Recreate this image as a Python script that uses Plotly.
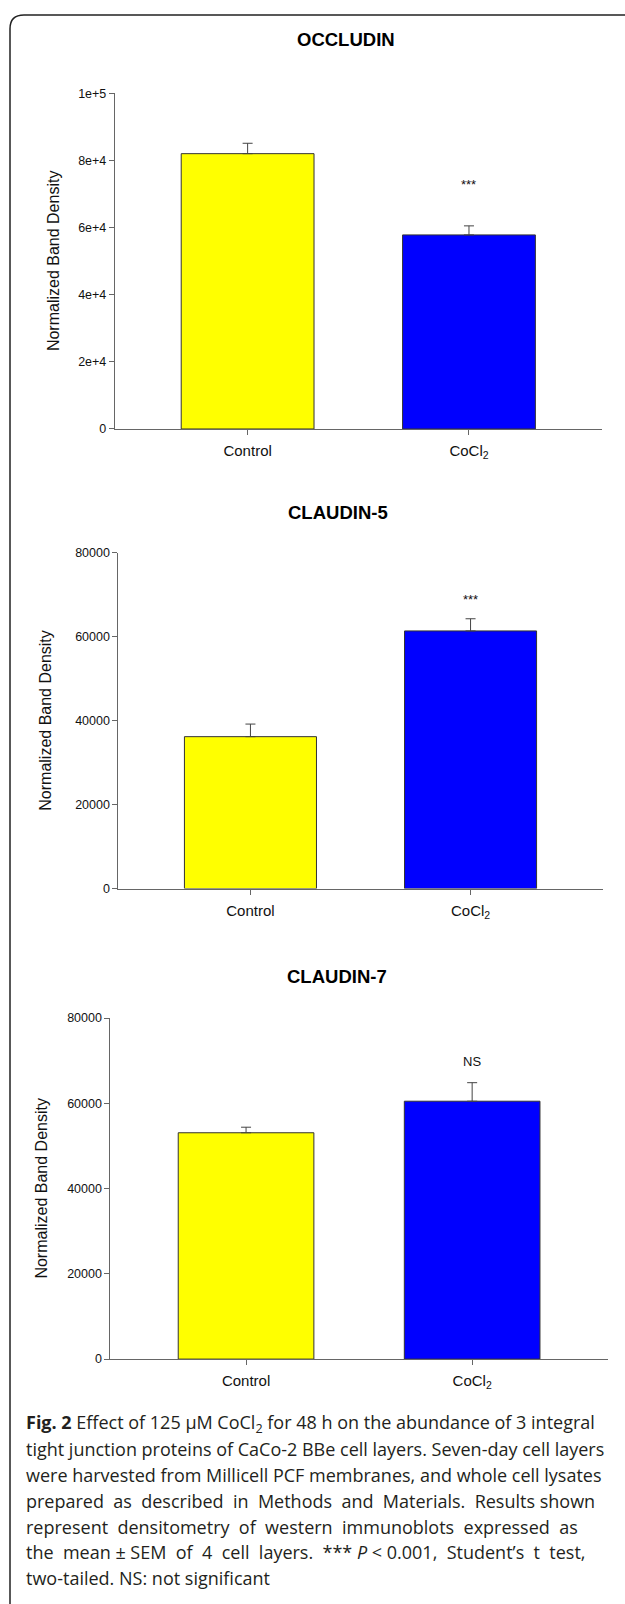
import plotly.graph_objects as go

W, H = 625, 1604

# ---------------- data ----------------
categories = ["Control", "CoCl<sub>2</sub>"]
panel_titles = ["OCCLUDIN", "CLAUDIN-5", "CLAUDIN-7"]
occludin_mean = [82000, 57800]
occludin_sem = [3100, 2700]
claudin5_mean = [36200, 61400]
claudin5_sem = [3000, 2900]
claudin7_mean = [53100, 60500]
claudin7_sem = [1300, 4350]
sig_labels = ["***", "***", "NS"]
occludin_tickvals = [0, 20000, 40000, 60000, 80000, 100000]
occludin_ticktext = ["0", "2e+4", "4e+4", "6e+4", "8e+4", "1e+5"]
claudin_tickvals = [0, 20000, 40000, 60000, 80000]
claudin_ticktext = ["0", "20000", "40000", "60000", "80000"]
y_title = "Normalized Band Density"
NB = "\u00a0"  # extra non-breaking space to mimic the justified caption lines
caption_lines = [
    "<b>Fig. 2</b> Effect of 125 µM CoCl<sub>2</sub> for 48 h on the abundance of 3 integral",
    "tight junction proteins of CaCo-2 BBe cell layers. Seven-day cell layers",
    "were harvested from Millicell PCF membranes, and whole cell lysates",
    ("prepared " + NB + "as " + NB + "described " + NB + "in " + NB + "Methods " + NB
     + "and " + NB + "Materials. " + NB + "Results shown"),
    ("represent " + NB + "densitometry " + NB + "of " + NB + "western " + NB
     + "immunoblots " + NB + "expressed " + NB + "as"),
    ("the " + NB + "mean ± SEM " + NB + "of " + NB + "4 " + NB + "cell " + NB + "layers. " + NB
     + "*** <i>P</i> &lt; 0.001, " + NB + "Student’s " + NB + "t " + NB + "test,"),
    "two-tailed. NS: not significant",
]

# ---------------- style / layout ----------------
bar_colors = ["#FFFF00", "#0000FF"]
FONT = "Arial, Liberation Sans, Helvetica, sans-serif"
CAP_FONT = "Open Sans, Noto Sans, sans-serif"
AXIS_COL = "#666666"


def px(x):
    return x / W


def py(y):
    return 1 - y / H


panels = [
    dict(mean=occludin_mean, sem=occludin_sem, tv=occludin_tickvals, tt=occludin_ticktext,
         ymax=100000, x0=114.8, x1=601.8, top=87.0, bot=425.7,
         tx=346, ty=33, ytx=53, sig_y=72900),
    dict(mean=claudin5_mean, sem=claudin5_sem, tv=claudin_tickvals, tt=claudin_ticktext,
         ymax=80000, x0=118.4, x1=602.6, top=550.7, bot=889.3,
         tx=338, ty=510, ytx=46, sig_y=69000),
    dict(mean=claudin7_mean, sem=claudin7_sem, tv=claudin_tickvals, tt=claudin_ticktext,
         ymax=80000, x0=110.4, x1=607.8, top=1020.0, bot=1364.0,
         tx=337, ty=978, ytx=42, sig_y=69700),
]

fig = go.Figure()
annotations = []
layout_axes = {}

for i, p in enumerate(panels):
    n = "" if i == 0 else str(i + 1)
    xa, ya = "x" + n, "y" + n
    fig.add_trace(go.Bar(
        x=categories, y=p["mean"], xaxis=xa, yaxis=ya,
        width=0.6,
        marker=dict(color=bar_colors, line=dict(color="#333333", width=1)),
        error_y=dict(type="data", array=p["sem"], arrayminus=[0] * len(p["sem"]),
                     symmetric=False, color="#444444", thickness=1, width=5),
        showlegend=False, hoverinfo="skip",
    ))
    layout_axes["xaxis" + n] = dict(
        domain=[px(p["x0"]), px(p["x1"])], anchor=ya, range=[-0.6, 1.6],
        type="category", showline=True, linecolor=AXIS_COL, linewidth=1,
        ticks="outside", ticklen=5, tickcolor=AXIS_COL, showgrid=False, zeroline=False,
        ticklabelstandoff=3,
        tickfont=dict(family=FONT, size=15, color="#111111"), fixedrange=True,
    )
    layout_axes["yaxis" + n] = dict(
        domain=[py(p["bot"]), py(p["top"])], anchor=xa, range=[0, p["ymax"]],
        showline=True, linecolor=AXIS_COL, linewidth=1,
        ticks="outside", ticklen=5, tickcolor=AXIS_COL, showgrid=False, zeroline=False,
        tickvals=p["tv"], ticktext=p["tt"],
        tickfont=dict(family=FONT, size=12.5, color="#111111"), fixedrange=True,
    )
    # panel title
    annotations.append(dict(
        text="<b>%s</b>" % panel_titles[i], xref="paper", yref="paper",
        x=px(p["tx"]), y=py(p["ty"]), xanchor="center", yanchor="middle",
        showarrow=False, font=dict(family=FONT, size=18.5, color="#000000"),
    ))
    # y axis title
    annotations.append(dict(
        text=y_title, xref="paper", yref="paper", textangle=-90,
        x=px(p["ytx"]), y=py((p["top"] + p["bot"]) / 2), xanchor="center", yanchor="middle",
        showarrow=False, font=dict(family=FONT, size=16, color="#111111"),
    ))
    # significance label
    annotations.append(dict(
        text=sig_labels[i], xref=xa, yref=ya, x=categories[1], y=p["sig_y"],
        xanchor="center", yanchor="middle", showarrow=False,
        font=dict(family=FONT, size=13, color="#111111"),
    ))

# caption
cap_base = 1435
cap_step = 26
for k, line in enumerate(caption_lines):
    annotations.append(dict(
        text=line, xref="paper", yref="paper",
        x=px(24), y=py(cap_base + k * cap_step - 6), xanchor="left", yanchor="middle",
        showarrow=False, font=dict(family=CAP_FONT, size=18, color="#231f20"),
    ))

# rounded frame (top-left corner visible; right and bottom edges run off the page)
frame_path = "M %f,%f L %f,%f Q %f,%f %f,%f L %f,%f" % (
    px(10), py(1620), px(10), py(22), px(10), py(8), px(24), py(8), px(640), py(8))

fig.update_layout(
    width=W, height=H, autosize=False,
    margin=dict(l=0, r=0, t=0, b=0),
    paper_bgcolor="white", plot_bgcolor="white",
    annotations=annotations,
    shapes=[dict(type="path", path=frame_path, xref="paper", yref="paper",
                 line=dict(color="#222222", width=1.5))],
    bargap=0.4,
    **layout_axes,
)

fig.write_html("out.html", config={"displayModeBar": False},
               post_script="document.body.style.margin='0';")
